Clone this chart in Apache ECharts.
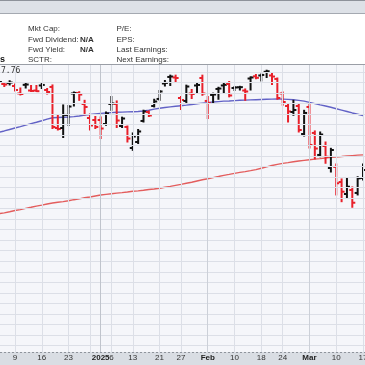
<!DOCTYPE html>
<html><head><meta charset="utf-8">
<script src="https://cdn.jsdelivr.net/npm/echarts@6/dist/echarts.min.js"></script>
<style>html,body{margin:0;padding:0;background:#fff}#c{width:365px;height:365px}</style>
</head><body><div id="c"></div>
<script>
const dates = ['2024-12-04','2024-12-05','2024-12-06','2024-12-09','2024-12-10','2024-12-11','2024-12-12','2024-12-13','2024-12-16','2024-12-17','2024-12-18','2024-12-19','2024-12-20','2024-12-23','2024-12-24','2024-12-26','2024-12-27','2024-12-30','2024-12-31',
'2025-01-02','2025-01-03','2025-01-06','2025-01-07','2025-01-08','2025-01-10','2025-01-13','2025-01-14','2025-01-15','2025-01-16','2025-01-17','2025-01-21','2025-01-22','2025-01-23','2025-01-24','2025-01-27','2025-01-28','2025-01-29','2025-01-30','2025-01-31',
'2025-02-03','2025-02-04','2025-02-05','2025-02-06','2025-02-07','2025-02-10','2025-02-11','2025-02-12','2025-02-13','2025-02-14','2025-02-18','2025-02-19','2025-02-20','2025-02-21','2025-02-24','2025-02-25','2025-02-26','2025-02-27','2025-02-28',
'2025-03-03','2025-03-04','2025-03-05','2025-03-06','2025-03-07','2025-03-10','2025-03-11','2025-03-12','2025-03-13','2025-03-14','2025-03-17','2025-03-18'];

const opens = [8.565,8.584,8.594,8.565,8.494,8.576,8.522,8.522,8.570,8.527,8.556,8.166,8.166,8.290,8.494,8.499,8.394,8.261,8.242,
8.242,8.204,8.394,8.394,8.185,8.176,7.976,8.033,8.233,8.318,8.375,8.442,8.589,8.651,8.646,8.451,8.423,8.494,8.570,8.641,
8.423,8.480,8.537,8.570,8.584,8.546,8.553,8.522,8.636,8.657,8.665,8.700,8.665,8.632,8.494,8.375,8.318,8.375,8.109,
8.366,8.119,7.910,7.995,7.786,7.796,7.653,7.539,7.577,7.549,7.691];
const highs = [8.622,8.596,8.615,8.584,8.546,8.589,8.570,8.570,8.589,8.541,8.575,8.290,8.385,8.380,8.508,8.511,8.429,8.299,8.275,
8.271,8.318,8.465,8.423,8.269,8.185,8.119,8.152,8.335,8.328,8.439,8.522,8.617,8.668,8.668,8.465,8.573,8.532,8.589,8.668,
8.465,8.497,8.553,8.589,8.608,8.560,8.562,8.537,8.652,8.674,8.679,8.715,8.684,8.641,8.508,8.394,8.429,8.394,8.334,
8.389,8.138,8.128,8.033,7.973,7.824,7.682,7.688,7.606,7.703,7.824];
const lows = [8.546,8.560,8.575,8.518,8.480,8.546,8.513,8.513,8.541,8.489,8.161,8.147,8.076,8.190,8.375,8.429,8.290,8.147,8.161,
8.066,8.192,8.334,8.171,8.171,8.033,7.954,8.019,8.223,8.275,8.366,8.429,8.565,8.570,8.600,8.342,8.408,8.446,8.494,8.477,
8.256,8.408,8.439,8.497,8.462,8.522,8.527,8.429,8.527,8.634,8.613,8.646,8.579,8.439,8.383,8.223,8.287,8.128,8.090,
7.976,7.872,7.893,7.831,7.748,7.530,7.466,7.506,7.413,7.530,7.672];
const closes = [8.603,8.579,8.598,8.527,8.489,8.579,8.518,8.516,8.575,8.508,8.176,8.157,8.290,8.370,8.499,8.484,8.366,8.190,8.176,
8.161,8.304,8.399,8.237,8.256,8.066,8.085,8.133,8.323,8.285,8.418,8.513,8.594,8.655,8.641,8.432,8.560,8.489,8.575,8.494,
8.404,8.484,8.541,8.576,8.475,8.551,8.554,8.513,8.646,8.643,8.670,8.705,8.655,8.451,8.413,8.323,8.337,8.147,8.309,
8.005,7.971,8.104,7.893,7.957,7.641,7.561,7.608,7.456,7.688,7.767];

const ma50 = [8.125,8.138,8.152,8.166,8.179,8.193,8.208,8.221,8.235,8.250,
8.263,8.266,8.268,8.270,8.274,8.280,8.288,8.294,8.300,8.305,
8.309,8.312,8.315,8.317,8.319,8.321,8.323,8.328,8.335,8.345,
8.354,8.361,8.367,8.373,8.378,8.383,8.389,8.396,8.402,8.407,
8.413,8.417,8.421,8.423,8.426,8.429,8.431,8.433,8.435,8.437,
8.439,8.440,8.441,8.440,8.438,8.434,8.428,8.421,8.409,8.398,
8.386,8.375,8.363,8.349,8.336,8.323,8.309,8.297,8.285];
const ma200 = [7.353,7.360,7.370,7.382,7.391,7.403,7.413,7.424,7.433,7.444,
7.453,7.461,7.467,7.475,7.485,7.493,7.503,7.511,7.520,7.529,
7.535,7.541,7.547,7.552,7.558,7.565,7.569,7.575,7.582,7.587,
7.594,7.603,7.611,7.621,7.630,7.641,7.651,7.663,7.674,7.684,
7.695,7.705,7.716,7.725,7.735,7.744,7.752,7.761,7.771,7.784,
7.797,7.810,7.821,7.830,7.837,7.845,7.852,7.858,7.864,7.870,
7.875,7.881,7.887,7.891,7.895,7.900,7.904,7.908,7.911];

const gridDates = ['2024-12-09','2024-12-16','2024-12-23','2024-12-30','2025-01-02','2025-01-06','2025-01-13','2025-01-21','2025-01-27','2025-02-03','2025-02-10','2025-02-18','2025-02-24','2025-03-03','2025-03-10','2025-03-17'];
const majorDates = ['2025-01-02','2025-02-03','2025-03-03'];
const tickDates = ['2024-12-09','2024-12-16','2024-12-23','2025-01-02','2025-01-06','2025-01-13','2025-01-21','2025-01-27','2025-02-03','2025-02-10','2025-02-18','2025-02-24','2025-03-03','2025-03-10','2025-03-17'];
const tickLabels = ['9','16','23','2025','6','13','21','27','Feb','10','18','24','Mar','10','17'];
const gridPrices = [6.1,6.2,6.3,6.4,6.5,6.6,6.7,6.8,6.9,7.0,7.1,7.2,7.3,7.4,7.5,7.6,7.7,7.8,7.9,8.0,8.1,8.2,8.3,8.4,8.5,8.6,8.7];
const lastPrice = '7.76';

const ohlc = opens.map((o, i) => [i, o, highs[i], lows[i], closes[i], i === 0 || closes[i] >= closes[i - 1] ? 1 : 0]);

const chart = echarts.init(document.getElementById('c'), null, {renderer: 'canvas'});
const F = '"Liberation Sans", Arial, sans-serif';
const hdr = (x, y, t, bold) => ({type: 'text', x: x, y: y, style: {text: t, fill: '#333', font: (bold ? 'bold ' : '') + '8px ' + F, textVerticalAlign: 'middle'}});

chart.setOption({
  animation: false,
  backgroundColor: '#ffffff',
  grid: {left: -1.07, width: 369.43, top: 65, bottom: 13, show: true, backgroundColor: '#f5f6fa', borderWidth: 0, containLabel: false, outerBoundsMode: 'none'},
  xAxis: {
    type: 'category', data: dates, boundaryGap: false, z: 10,
    axisLine: {show: false}, axisTick: {show: false}, splitLine: {show: false},
    axisLabel: {
      interval: (idx, val) => tickDates.indexOf(val) >= 0,
      margin: 2, fontSize: 8, color: '#333', fontFamily: F,
      formatter: (val) => {
        const k = tickDates.indexOf(val);
        const t = tickLabels[k];
        return /^\d{1,2}$/.test(t) ? t : '{b|' + t + '}';
      },
      rich: {b: {fontWeight: 'bold', fontSize: 8, color: '#222', fontFamily: F}}
    }
  },
  yAxis: {type: 'value', min: 6.038, max: 8.7645, show: false, splitLine: {show: false}},
  series: [
    {
      type: 'line', data: [], z: 1, silent: true,
      markLine: {
        silent: true, symbol: 'none', label: {show: false}, animation: false,
        lineStyle: {color: '#dcdfe7', width: 1, type: 'solid'},
        emphasis: {disabled: true},
        data: gridPrices.map(p => ({yAxis: p})).concat(gridDates.map(d => ({
          xAxis: d,
          lineStyle: {color: majorDates.indexOf(d) >= 0 ? (d === '2025-01-02' ? '#c0c4cc' : '#ccd0d8') : '#dcdfe7', width: 1, type: 'solid'}
        })))
      }
    },
    {type: 'line', data: ma200, showSymbol: false, z: 2, silent: true, lineStyle: {color: '#e35d5d', width: 1.4}},
    {type: 'line', data: ma50, showSymbol: false, z: 2, silent: true, lineStyle: {color: '#6262c6', width: 1.4}},
    {
      type: 'custom', z: 3, silent: true, clip: true,
      data: ohlc,
      encode: {x: 0, y: [1, 2, 3, 4]},
      renderItem: (params, api) => {
        const i = api.value(0);
        const po = api.coord([i, api.value(1)]);
        const ph = api.coord([i, api.value(2)]);
        const pl = api.coord([i, api.value(3)]);
        const pc = api.coord([i, api.value(4)]);
        const col = api.value(5) ? '#111111' : '#e8202a';
        const x = ph[0];
        const st = {stroke: col, lineWidth: 2};
        return {type: 'group', children: [
          {type: 'line', shape: {x1: x, y1: ph[1] - 0.5, x2: x, y2: pl[1] + 0.5}, style: st},
          {type: 'line', shape: {x1: x - 3, y1: po[1], x2: x, y2: po[1]}, style: st},
          {type: 'line', shape: {x1: x, y1: pc[1], x2: x + 3, y2: pc[1]}, style: st}
        ]};
      }
    }
  ],
  graphic: [
    {type: 'rect', z: 0, shape: {x: 0, y: 0, width: 365, height: 13}, style: {fill: '#dde1e7'}},
    {type: 'line', z: 1, shape: {x1: 0, y1: 0.5, x2: 365, y2: 0.5}, style: {stroke: '#8d929a', lineWidth: 1}},
    {type: 'line', z: 1, shape: {x1: 0, y1: 13.5, x2: 365, y2: 13.5}, style: {stroke: '#a4a9b1', lineWidth: 1}},
    hdr(28, 29, 'Mkt Cap:'), hdr(28, 39.5, 'Fwd Dividend:'), hdr(80, 39.5, 'N/A', true),
    hdr(28, 50, 'Fwd Yield:'), hdr(80, 50, 'N/A', true), hdr(28, 60, 'SCTR:'),
    hdr(116.5, 29, 'P/E:'), hdr(116.5, 39.5, 'EPS:'), hdr(116.5, 50, 'Last Earnings:'), hdr(116.5, 60, 'Next Earnings:'),
    {type: 'text', x: 0, y: 60, style: {text: 's', fill: '#111', font: 'bold 9px ' + F, textVerticalAlign: 'middle'}},
    {type: 'line', z: 100, shape: {x1: 0, y1: 64.5, x2: 365, y2: 64.5}, style: {stroke: '#9a9ea6', lineWidth: 1}},
    {type: 'text', z: 100, zlevel: 1, x: 1, y: 70.5, style: {text: lastPrice, fill: '#333', font: '8px "DejaVu Sans Mono", monospace', textVerticalAlign: 'middle'}},
    {type: 'rect', z: -5, shape: {x: 0, y: 352, width: 365, height: 13}, style: {fill: '#d9dde3'}},
    {type: 'line', z: -4, shape: {x1: 0, y1: 352.5, x2: 365, y2: 352.5}, style: {stroke: '#8f949c', lineWidth: 1, lineDash: [2, 2]}}
  ]
});
</script>
</body></html>
